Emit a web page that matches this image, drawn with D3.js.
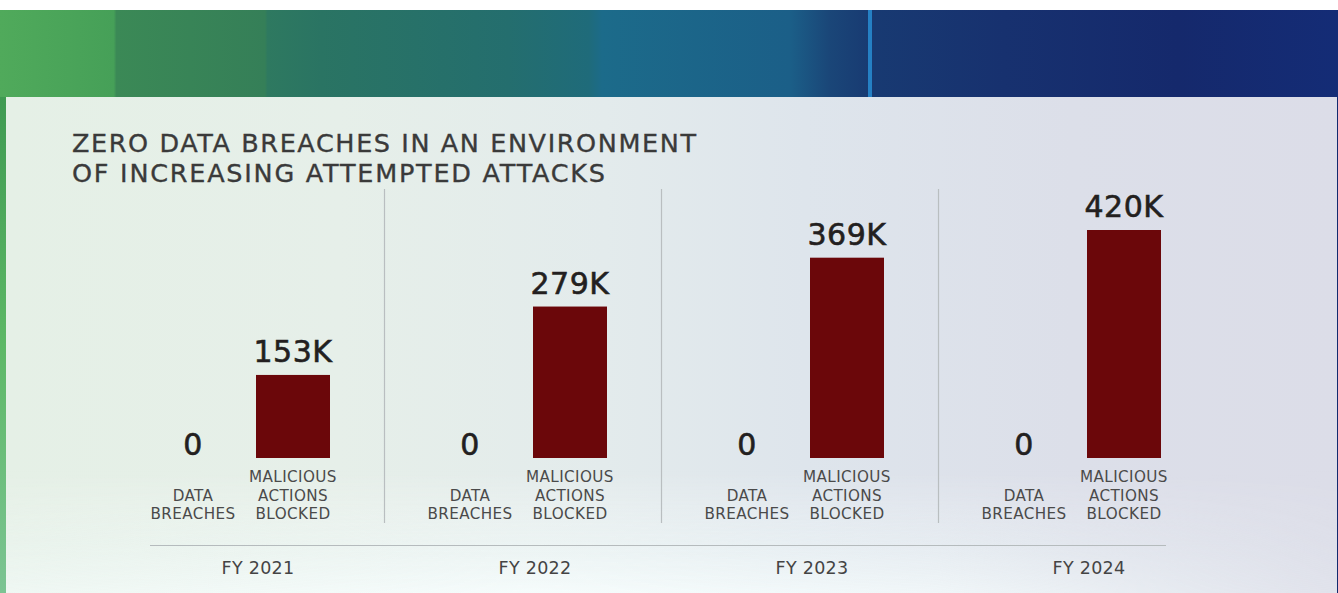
<!DOCTYPE html>
<html>
<head>
<meta charset="utf-8">
<script src="https://cdn.jsdelivr.net/npm/d3@7"></script>
<style>
  html, body { margin: 0; padding: 0; background: #ffffff; }
  svg { display: block; }
  text { font-family: "DejaVu Sans", "Open Sans", sans-serif; }
</style>
</head>
<body>
<svg id="chart" width="1338" height="593"></svg>
<script>
// ---- data ----
const years = ["FY 2021", "FY 2022", "FY 2023", "FY 2024"];
const series = ["DATA BREACHES", "MALICIOUS ACTIONS BLOCKED"];
const dataBreaches = [0, 0, 0, 0];
const maliciousBlocked = [153, 279, 369, 420]; // thousands
const valueLabels = [["0", "153K"], ["0", "279K"], ["0", "369K"], ["0", "420K"]];
const seriesLabelLines = [["DATA", "BREACHES"], ["MALICIOUS", "ACTIONS", "BLOCKED"]];
const titleLines = ["ZERO DATA BREACHES IN AN ENVIRONMENT", "OF INCREASING ATTEMPTED ATTACKS"];

const W = 1338, H = 593;
const svg = d3.select("#chart");
const defs = svg.append("defs");

// ---- background ----
const band = defs.append("linearGradient").attr("id", "band").attr("x1", 0).attr("x2", 1).attr("y1", 0).attr("y2", 0);
[["0%", "#50aa5b"], ["8.5%", "#46a058"], ["8.7%", "#3b8956"], ["19.8%", "#357f58"], ["20%", "#2e7960"],
 ["24%", "#2a7463"], ["38%", "#246e6e"], ["44%", "#1f6b7a"], ["45%", "#1c6b8a"], ["59%", "#1b5f88"],
 ["62%", "#1a4678"], ["65%", "#183a72"], ["75%", "#17316f"], ["88%", "#15296c"], ["100%", "#142c76"]]
  .forEach(([o, c]) => band.append("stop").attr("offset", o).attr("stop-color", c));

const leftStrip = defs.append("linearGradient").attr("id", "leftStrip").attr("x1", 0).attr("x2", 0).attr("y1", 0).attr("y2", 1);
[["0%", "#3f9a52"], ["50%", "#5db866"], ["100%", "#7cc493"]]
  .forEach(([o, c]) => leftStrip.append("stop").attr("offset", o).attr("stop-color", c));

const panel = defs.append("linearGradient").attr("id", "panel").attr("x1", 0).attr("x2", 1).attr("y1", 0).attr("y2", 0);
[["0%", "#e5f0e6"], ["25%", "#e6efe9"], ["45%", "#e3ebec"], ["60%", "#dee5ec"], ["80%", "#dcdfe9"], ["100%", "#dcdde8"]]
  .forEach(([o, c]) => panel.append("stop").attr("offset", o).attr("stop-color", c));

const glow = defs.append("linearGradient").attr("id", "glow").attr("x1", 0).attr("x2", 0).attr("y1", 0).attr("y2", 1);
[["0%", "#ffffff", 0], ["60%", "#f4fbfb", 0.5], ["100%", "#f7fdfd", 0.9]]
  .forEach(([o, c, a]) => glow.append("stop").attr("offset", o).attr("stop-color", c).attr("stop-opacity", a));

const glowH = defs.append("linearGradient").attr("id", "glowH").attr("x1", 0).attr("x2", 1).attr("y1", 0).attr("y2", 0);
[["0%", 0.6], ["40%", 1], ["70%", 0.8], ["100%", 0.2]]
  .forEach(([o, a]) => glowH.append("stop").attr("offset", o).attr("stop-color", "#fff").attr("stop-opacity", a));
const mask = defs.append("mask").attr("id", "glowMask");
mask.append("rect").attr("x", 0).attr("y", 0).attr("width", W).attr("height", H).attr("fill", "url(#glowH)");

svg.append("rect").attr("x", 0).attr("y", 10).attr("width", W).attr("height", H - 10).attr("fill", "#132a6e");
svg.append("rect").attr("x", 0).attr("y", 10).attr("width", W).attr("height", 88).attr("fill", "url(#band)");
svg.append("rect").attr("x", 868).attr("y", 10).attr("width", 4).attr("height", 88).attr("fill", "#2580c4");
svg.append("rect").attr("x", 0).attr("y", 97).attr("width", 7).attr("height", H - 97).attr("fill", "url(#leftStrip)");
svg.append("rect").attr("x", 6).attr("y", 97).attr("width", 1331).attr("height", H - 97).attr("fill", "url(#panel)");
svg.append("rect").attr("x", 6).attr("y", 470).attr("width", 1331).attr("height", H - 470)
  .attr("fill", "url(#glow)").attr("mask", "url(#glowMask)");

// ---- scales ----
const x = d3.scaleBand().domain(years).range([107, 1215]).paddingInner(0).paddingOuter(0);
const xi = d3.scaleBand().domain(series).range([36, 236]);
const y = d3.scaleLinear().domain([0, 420]).range([458, 230]);
const barW = 74;

// ---- title ----
const titleWidths = [624, 533];
titleLines.forEach((t, i) => {
  svg.append("text").attr("x", 72).attr("y", 151.5 + i * 30)
    .attr("fill", "#3a3a3a").attr("font-size", 25.5).attr("font-weight", 400)
    .attr("stroke", "#3a3a3a").attr("stroke-width", 0.35)
    .attr("textLength", titleWidths[i]).attr("lengthAdjust", "spacing")
    .text(t);
});

// ---- dividers & baseline ----
svg.append("g").selectAll("line").data(years.slice(1)).join("line")
  .attr("x1", d => x(d) + 0.5).attr("x2", d => x(d) + 0.5)
  .attr("y1", 189).attr("y2", 523)
  .attr("stroke", "#b9bec0").attr("stroke-width", 1.2);

svg.append("line")
  .attr("x1", x(years[0]) + 43).attr("x2", x(years[years.length - 1]) + 228)
  .attr("y1", 545.5).attr("y2", 545.5)
  .attr("stroke", "#b5bbbd").attr("stroke-width", 1.2);

// ---- groups ----
const rows = years.map((yr, i) => ({ year: yr, values: [dataBreaches[i], maliciousBlocked[i]], labels: valueLabels[i] }));
const g = svg.append("g").selectAll("g").data(rows).join("g")
  .attr("transform", d => `translate(${x(d.year)},0)`);

g.append("text").attr("class", "fy")
  .attr("x", 151).attr("y", 574).attr("text-anchor", "middle")
  .attr("fill", "#444").attr("font-size", 17.5).attr("letter-spacing", 0.3)
  .text(d => d.year);

const cell = g.selectAll("g.cell").data(d => series.map((s, j) => ({ s, j, v: d.values[j], label: d.labels[j] })))
  .join("g").attr("class", "cell")
  .attr("transform", d => `translate(${xi(d.s) + xi.bandwidth() / 2},0)`);

cell.filter(d => d.v > 0).append("rect")
  .attr("x", -barW / 2).attr("width", barW)
  .attr("y", d => y(d.v)).attr("height", d => y(0) - y(d.v))
  .attr("fill", "#6b070a");

cell.append("text")
  .attr("text-anchor", "middle")
  .attr("y", d => d.v > 0 ? y(d.v) - 13 : y(0) - 3)
  .attr("fill", "#231f20").attr("font-size", 30).attr("font-weight", 400).attr("letter-spacing", 0.5)
  .attr("stroke", "#231f20").attr("stroke-width", 0.6)
  .text(d => d.label);

cell.each(function (d) {
  const lines = seriesLabelLines[d.j];
  const t = d3.select(this).append("text").attr("text-anchor", "middle")
    .attr("fill", "#4a4a4a").attr("font-size", 15.2).attr("letter-spacing", 0.4);
  lines.forEach((ln, k) => t.append("tspan").attr("x", 0)
    .attr("y", 519 - (lines.length - 1 - k) * 18.3).text(ln));
});
</script>
</body>
</html>
